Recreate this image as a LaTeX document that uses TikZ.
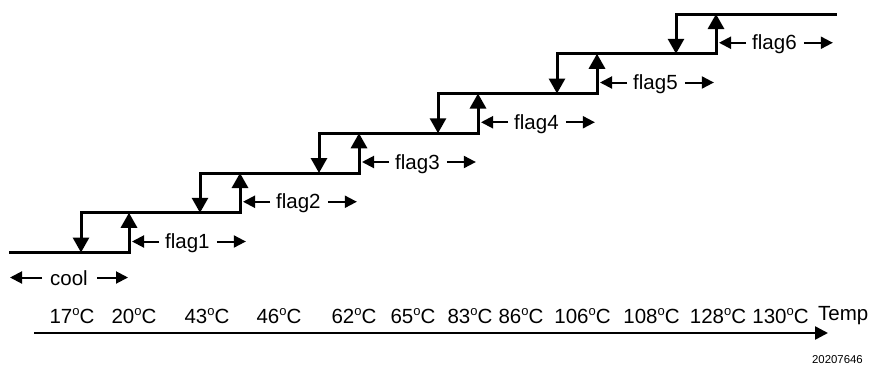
\documentclass[tikz,border=0pt]{standalone}
\usepackage{fontspec}
\setmainfont{Liberation Sans}
\usetikzlibrary{arrows.meta,calc}
\newcommand{\degsym}{\raisebox{7.6pt}{\fontsize{13}{13}\selectfont o}}
\begin{document}
\begin{tikzpicture}[x=1pt,y=-1pt,
  stair/.style={line width=3pt, line cap=rect},
  varrow/.style={line width=3pt, -{Triangle[length=15pt,width=16pt]}},
  harrow/.style={line width=2pt, -{Triangle[length=12pt,width=12pt]}},
  axisarrow/.style={line width=2.5pt, -{Triangle[length=13pt,width=13pt]}},
  lbl/.style={font=\fontsize{20.5}{24}\selectfont, inner sep=0pt},
  small/.style={font=\fontsize{11.4}{13}\selectfont, inner sep=0pt}]
\useasboundingbox (0,0) rectangle (870,365);

% step corners
\foreach \k/\d/\u/\yl/\yh in {1/81/129/252.5/212.75, 2/200/240/212.75/173,
    3/319/359/173/133.25, 4/438/478/133.25/93.5, 5/557/597/93.5/53.75, 6/676/716/53.75/14} {
  \coordinate (dtop\k) at (\d,\yh);
  \coordinate (dbot\k) at (\d,\yl);
  \coordinate (ubot\k) at (\u,\yl);
  \coordinate (utop\k) at (\u,\yh);
}
\coordinate (start) at (10,252.5);
\coordinate (finish) at (835,14);

% horizontal levels
\draw[stair] (start) -- (ubot1);
\draw[stair] (dtop1) -- (ubot2);
\draw[stair] (dtop2) -- (ubot3);
\draw[stair] (dtop3) -- (ubot4);
\draw[stair] (dtop4) -- (ubot5);
\draw[stair] (dtop5) -- (ubot6);
\draw[stair] (dtop6) -- (finish);

% vertical arrows
\foreach \k in {1,...,6} {
  \draw[varrow] (ubot\k) -- (utop\k);
  \draw[varrow] (dtop\k) -- (dbot\k);
}

% flag labels
\foreach \k/\u/\yb in {1/129/248.5, 2/240/208.75, 3/359/169, 4/478/129.25, 5/597/89.5, 6/716/49.75} {
  \node[lbl, anchor=base west] (flag\k) at (\u+36,\yb) {flag\k};
  \coordinate (fl\k) at (\u+3,\yb-7);
  \coordinate (fla\k) at ($(flag\k.base west)+(-6,-7)$);
  \coordinate (frb\k) at ($(flag\k.base east)+(7,-7)$);
  \coordinate (fre\k) at ($(flag\k.base east)+(36,-7)$);
  \draw[harrow] (fla\k) -- (fl\k);
  \draw[harrow] (frb\k) -- (fre\k);
}

% cool
\node[lbl, anchor=base west] (cool) at (50,285) {cool};
\coordinate (cl) at (10,277.5);
\coordinate (cla) at (42,277.5);
\coordinate (crb) at (97,277.5);
\coordinate (cre) at (128,277.5);
\draw[harrow] (cla) -- (cl);
\draw[harrow] (crb) -- (cre);

% temperature labels
\foreach \x/\t in {72/17, 134/20, 207/43, 279/46, 354/62, 413/65, 470/83, 521/86,
    582.5/106, 651.5/108, 718/128, 780.5/130} {
  \node[lbl, anchor=base] (t\t) at (\x,323) {\t\degsym C};
}
\node[lbl, anchor=base west] (temp) at (818,320) {Temp};

% axis
\coordinate (ax0) at (34,333);
\coordinate (ax1) at (828,333);
\draw[axisarrow] (ax0) -- (ax1);

\node[small, anchor=base east] (fig) at (863,363.3) {20207646};
\end{tikzpicture}
\end{document}
